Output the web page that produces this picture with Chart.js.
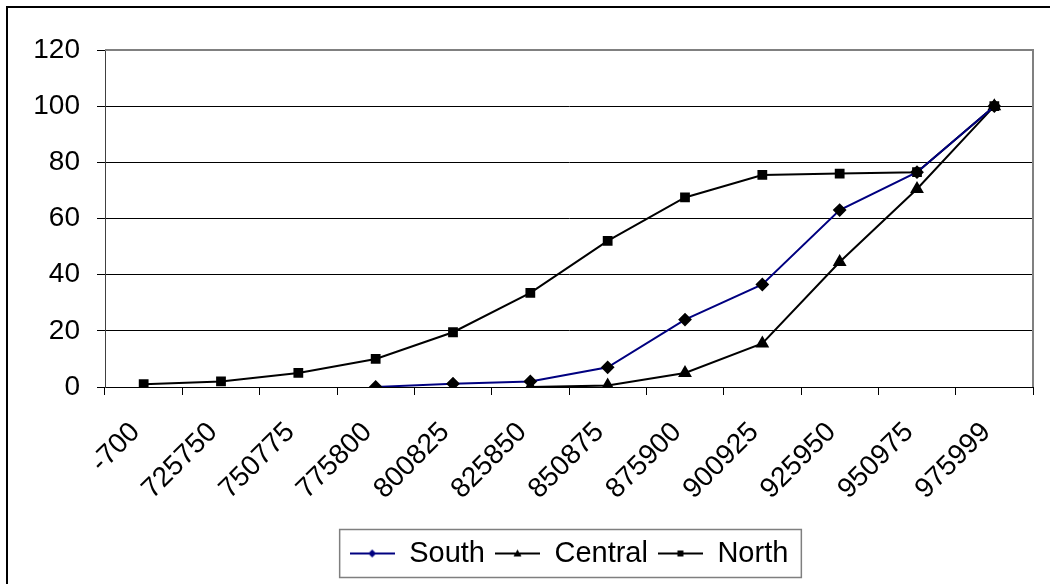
<!DOCTYPE html>
<html>
<head>
<meta charset="utf-8">
<script src="https://cdn.jsdelivr.net/npm/chart.js@4.4.1/dist/chart.umd.min.js"></script>
<style>
  html, body { margin: 0; padding: 0; background: #ffffff; }
  #wrap { width: 1050px; height: 584px; }
</style>
</head>
<body>
<div id="wrap"><canvas id="c" width="1050" height="584"></canvas></div>
<script>
// Price bands along the x axis
const categories = ['-700', '725750', '750775', '775800', '800825', '825850',
                    '850875', '875900', '900925', '925950', '950975', '975999'];

// Cumulative share (%) per region
const southValues   = [null, null, null, 0, 1.2, 2, 7, 24, 36.5, 63, 76.5, 100];
const centralValues = [null, null, null, null, null, 0, 0.5, 5, 15.5, 44.5, 70.5, 100];
const northValues   = [1, 2, 5, 10, 19.5, 33.5, 52, 67.5, 75.5, 76, 76.5, 100];

// Value axis range
const yMin = 0;
const yMax = 120;
const yStep = 20;

const FONT = '"Liberation Sans", Arial, sans-serif';
const NAVY = '#000080';
const BLACK = '#000000';

// Small line-with-marker swatch used as the legend symbol
function legendSample(color, shape) {
  const c = document.createElement('canvas');
  c.width = 45; c.height = 14;
  const g = c.getContext('2d');
  g.strokeStyle = color;
  g.lineWidth = 2;
  g.beginPath(); g.moveTo(0, 7); g.lineTo(45, 7); g.stroke();
  g.fillStyle = color;
  g.beginPath();
  const cx = 22.5, cy = 7;
  if (shape === 'diamond') {
    g.moveTo(cx, cy - 4); g.lineTo(cx + 4, cy); g.lineTo(cx, cy + 4); g.lineTo(cx - 4, cy);
  } else if (shape === 'triangle') {
    g.moveTo(cx, cy - 4); g.lineTo(cx + 4, cy + 3); g.lineTo(cx - 4, cy + 3);
  } else {
    g.rect(cx - 3, cy - 3, 6, 6);
  }
  g.closePath();
  g.fill();
  return c;
}
const samples = [legendSample(NAVY, 'diamond'), legendSample(BLACK, 'triangle'), legendSample(BLACK, 'square')];

// White page with the outer frame, plot border and legend box
const framePlugin = {
  id: 'frame',
  beforeDraw(chart) {
    const ctx = chart.ctx;
    ctx.save();
    ctx.fillStyle = '#ffffff';
    ctx.fillRect(0, 0, chart.width, chart.height);
    ctx.strokeStyle = '#000000';
    ctx.lineWidth = 2;
    ctx.strokeRect(7, 7, chart.width + 20, chart.height + 20);
    ctx.restore();
  },
  afterDraw(chart) {
    const ctx = chart.ctx;
    const a = chart.chartArea;
    ctx.save();
    ctx.strokeStyle = '#808080';
    ctx.lineWidth = 2;
    ctx.beginPath();
    ctx.moveTo(a.left, a.top);
    ctx.lineTo(a.right, a.top);
    ctx.lineTo(a.right, a.bottom);
    ctx.stroke();
    const lg = chart.legend;
    const hb = lg.legendHitBoxes;
    if (hb && hb.length) {
      const first = hb[0], last = hb[hb.length - 1];
      const l = first.left - 10;
      const r = last.left + last.width + 13;
      ctx.strokeStyle = '#7f7f7f';
      ctx.lineWidth = 1.5;
      ctx.strokeRect(l, lg.top + 0.5, r - l, lg.height - 1);
    }
    ctx.restore();
  }
};

new Chart(document.getElementById('c'), {
  type: 'line',
  data: {
    labels: categories,
    datasets: [
      {
        label: 'South', data: southValues,
        borderColor: NAVY, backgroundColor: NAVY,
        pointStyle: 'rectRot', pointRadius: 5.5,
        pointBackgroundColor: BLACK, pointBorderColor: BLACK,
        borderWidth: 2, tension: 0
      },
      {
        label: 'Central', data: centralValues,
        borderColor: BLACK, backgroundColor: BLACK,
        pointStyle: 'triangle', pointRadius: 6,
        pointBackgroundColor: BLACK, pointBorderColor: BLACK,
        borderWidth: 2, tension: 0
      },
      {
        label: 'North', data: northValues,
        borderColor: BLACK, backgroundColor: BLACK,
        pointStyle: 'rect', pointRadius: 5.5,
        pointBackgroundColor: BLACK, pointBorderColor: BLACK,
        borderWidth: 2, tension: 0
      }
    ]
  },
  options: {
    responsive: false,
    animation: false,
    events: [],
    layout: { padding: { left: 0, right: 17, top: 50, bottom: 6 } },
    scales: {
      x: {
        type: 'category',
        offset: true,
        grid: { offset: true, drawOnChartArea: false, drawTicks: true, tickLength: 8, color: BLACK, lineWidth: 1 },
        border: { color: BLACK, width: 1 },
        ticks: {
          autoSkip: false, minRotation: 45, maxRotation: 45,
          padding: 21, labelOffset: -8,
          color: BLACK, font: { family: FONT, size: 28 }
        },
        afterFit(scale) { scale.height = 142; }
      },
      y: {
        min: yMin, max: yMax,
        ticks: { stepSize: yStep, padding: 17, color: BLACK, font: { family: FONT, size: 28 } },
        grid: { color: BLACK, lineWidth: 1, tickLength: 8 },
        border: { color: '#404040', width: 1 },
        afterFit(scale) { scale.width = 105; }
      }
    },
    plugins: {
      tooltip: { enabled: false },
      legend: {
        position: 'bottom',
        fullSize: false,
        labels: {
          usePointStyle: true,
          pointStyleWidth: 45,
          padding: 10,
          color: BLACK,
          font: { family: FONT, size: 29 },
          generateLabels(chart) {
            const items = Chart.defaults.plugins.legend.labels.generateLabels(chart);
            items.forEach((it, i) => { it.pointStyle = samples[i]; it.fontColor = BLACK; });
            return items;
          }
        }
      }
    }
  },
  plugins: [framePlugin]
});
</script>
</body>
</html>
